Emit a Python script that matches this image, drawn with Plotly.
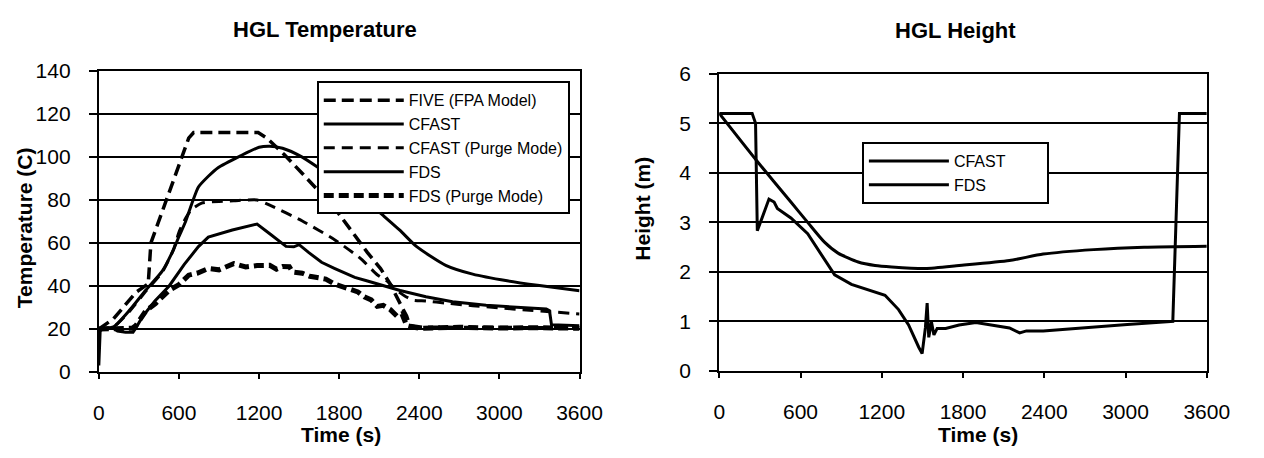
import plotly.graph_objects as go

# ---------------- data: HGL Temperature ----------------
five_t = [0, 110, 278, 370, 390, 549, 673, 710, 1193, 1259, 1390, 1524, 1646, 1768, 1890,
          2012, 2110, 2183, 2256, 2305, 2329, 2420, 3600]
five_T = [20, 24.7, 37, 41, 60, 88, 108.7, 111.3, 111.3, 108.7, 101, 92.3, 84.2, 76, 65.8,
          55.5, 48.1, 40.8, 31.9, 26, 21.6, 20.8, 20.5]

cfast_t = [0, 110, 234, 351, 476, 560, 600, 650, 695, 746, 820, 893, 1061, 1200, 1280, 1376,
           1520, 1668, 1850, 2012, 2134, 2256, 2378, 2598, 2800, 3058, 3300, 3600]
cfast_T = [20, 21, 29, 38, 47, 57, 63, 70, 78, 86, 91, 95, 100.5, 104.5, 105, 104,
           100, 94, 86.5, 79, 72.5, 65.8, 58.4, 49.6, 45.5, 42.4, 40.2, 37.8]

cfastp_t = [0, 110, 234, 351, 476, 560, 600, 650, 695, 770, 900, 1010, 1185, 1280, 1524, 1768,
            1963, 2085, 2159, 2230, 2300, 2354, 2451, 2600, 2800, 3000, 3200, 3380, 3600]
cfastp_T = [20, 21, 28.5, 37.5, 46.5, 57, 65, 71.5, 75.5, 78.5, 79.3, 79.6, 80, 77.6, 70.2, 61.4,
            52.6, 45.2, 42.3, 38, 35, 33.4, 33, 32, 30.8, 29.8, 28.8, 28, 27]

fds_t = [0, 10, 30, 110, 140, 200, 256, 278, 330, 420, 527, 640, 746, 820, 1000, 1185, 1280,
         1402, 1460, 1500, 1573, 1668, 1768, 1917, 2012, 2256, 2450, 2649, 2900, 3150, 3351,
         3375, 3390, 3600]
fds_T = [3, 19, 20.3, 20.3, 19, 18.5, 18.5, 20.5, 26, 33, 40, 50, 58.3, 62.7, 66, 68.8, 64.3,
         58.4, 58.2, 59.2, 55.5, 51, 48.1, 44, 42.3, 37.9, 35, 32.7, 31, 30, 29.3,
         28.5, 22, 21.5]

fdsp_t = [0, 150, 250, 278, 351, 424, 480, 527, 600, 673, 740, 820, 900, 1010, 1100, 1185,
          1280, 1330, 1376, 1427, 1451, 1524, 1580, 1646, 1700, 1768, 1830, 1890, 1940, 1988,
          2040, 2085, 2130, 2183, 2232, 2270, 2305, 2340, 2400, 2700, 3000, 3300, 3600]
fdsp_T = [20, 20.5, 20.3, 21.6, 28.3, 31.8, 35, 38, 40.6, 45, 46, 48.1, 47.5, 50.4, 48.8, 49.5,
          49.6, 47.8, 49, 48.9, 46.5, 45.9, 44.5, 43.7, 43.2, 40.8, 39.5, 37.9, 37.2, 34.9,
          33.5, 30.5, 31, 29, 26, 27, 21.6, 21, 20.3, 20.8, 20.4, 20.6, 20.3]

# ---------------- data: HGL Height ----------------
h_cfast_t = [0, 281, 529, 653, 777, 877, 1026, 1150, 1274, 1522, 1771, 2143, 2392, 2764, 3137, 3600]
h_cfast = [5.2, 4.23, 3.41, 3.0, 2.6, 2.38, 2.2, 2.13, 2.10, 2.07, 2.13, 2.23, 2.36, 2.45, 2.50, 2.52]

h_fds_t = [0, 243, 268, 281, 367, 405, 429, 529, 653, 777, 852, 976, 1150, 1224, 1324, 1398,
           1473, 1498, 1522, 1535, 1547, 1567, 1585, 1609, 1672, 1771, 1895, 2019, 2143, 2218,
           2268, 2392, 2764, 3013, 3349, 3398, 3600]
h_fds = [5.2, 5.2, 5.0, 2.83, 3.47, 3.41, 3.28, 3.09, 2.77, 2.26, 1.94, 1.75, 1.59, 1.53, 1.24, 0.93,
         0.48, 0.35, 0.87, 1.37, 0.68, 0.99, 0.73, 0.86, 0.86, 0.93, 0.98, 0.93, 0.87, 0.77,
         0.81, 0.81, 0.89, 0.94, 1.0, 5.2, 5.2]

time_ticks = [0, 600, 1200, 1800, 2400, 3000, 3600]
temp_ticks = [0, 20, 40, 60, 80, 100, 120, 140]
height_ticks = [0, 1, 2, 3, 4, 5, 6]

FONT = "Liberation Sans, Arial, sans-serif"
W, H = 1264, 458

fig = go.Figure()

def add(x, y, name, width, dash, xa, ya, legend, group, shape="linear"):
    fig.add_trace(go.Scatter(
        x=x, y=y, name=name, mode="lines", xaxis=xa, yaxis=ya, legend=legend,
        legendgroup=group,
        line=dict(color="black", width=width, dash=dash, shape=shape, smoothing=0.6)))

add(five_t, five_T, "FIVE (FPA Model)", 3.5, "12px,6px", "x", "y", "legend", "a")
add(cfast_t, cfast_T, "CFAST", 3, "solid", "x", "y", "legend", "b", "spline")
add(cfastp_t, cfastp_T, "CFAST (Purge Mode)", 3, "11px,7px", "x", "y", "legend", "c", "spline")
add(fds_t, fds_T, "FDS", 3, "solid", "x", "y", "legend", "d")
add(fdsp_t, fdsp_T, "FDS (Purge Mode)", 5, "10px,5px", "x", "y", "legend", "e")

add(h_cfast_t, h_cfast, "CFAST" + "&nbsp;" * 8, 3, "solid", "x2", "y2", "legend2", "f", "spline")
add(h_fds_t, h_fds, "FDS", 3, "solid", "x2", "y2", "legend2", "g")

xcommon = dict(range=[0, 3600], tickvals=time_ticks, ticks="outside", ticklen=5, tickwidth=2,
               tickcolor="black", showline=True, linecolor="black", linewidth=2, mirror=True,
               showgrid=False, zeroline=False, ticklabelstandoff=16,
               tickfont=dict(family=FONT, size=21, color="black"))
ycommon = dict(ticks="outside", ticklen=8, tickwidth=2, tickcolor="black", showline=True,
               linecolor="black", linewidth=2, mirror=True, showgrid=True, gridcolor="black",
               gridwidth=2, zeroline=False, ticklabelstandoff=14,
               tickfont=dict(family=FONT, size=21, color="black"))

def px(v):
    return v / W

def py(v):
    return 1 - v / H

fig.update_layout(
    width=W, height=H, margin=dict(l=0, r=0, t=0, b=0),
    paper_bgcolor="white", plot_bgcolor="white",
    font=dict(family=FONT, color="black"),
    xaxis=dict(domain=[px(95), px(587)], anchor="y", **xcommon),
    yaxis=dict(domain=[py(379), py(62)], anchor="x", range=[0, 140], tickvals=temp_ticks, **ycommon),
    xaxis2=dict(domain=[px(730), px(1229)], anchor="y2", **xcommon),
    yaxis2=dict(domain=[py(378), py(65)], anchor="x2", range=[0, 6], tickvals=height_ticks, **ycommon),
    legend=dict(x=px(577), y=py(73), xanchor="right", yanchor="top", bgcolor="white",
                bordercolor="black", borderwidth=2, font=dict(family=FONT, size=16, color="black"),
                tracegroupgap=4, itemwidth=80, traceorder="normal"),
    legend2=dict(x=px(876), y=py(137), xanchor="left", yanchor="top", bgcolor="white",
                 bordercolor="black", borderwidth=2, font=dict(family=FONT, size=16, color="black"),
                 tracegroupgap=6, itemwidth=80, traceorder="normal"),
    showlegend=True,
)

title_font = dict(family=FONT, size=22, color="black")
axis_font = dict(family=FONT, size=21, color="black")
ann = [
    dict(text="<b>HGL Temperature</b>", x=px(326), y=py(18), font=title_font),
    dict(text="<b>HGL Height</b>", x=px(972), y=py(20), font=title_font),
    dict(text="<b>Time (s)</b>", x=px(343), y=py(445), font=axis_font),
    dict(text="<b>Time (s)</b>", x=px(995), y=py(445), font=axis_font),
    dict(text="<b>Temperature (C)</b>", x=px(19), y=py(227), textangle=-90, font=axis_font),
    dict(text="<b>Height (m)</b>", x=px(652), y=py(207), textangle=-90, font=axis_font),
]
for a in ann:
    fig.add_annotation(xref="paper", yref="paper", showarrow=False, xanchor="center",
                       yanchor="middle", **a)

fig.write_html("out.html", config={"displayModeBar": False},
               post_script="document.body.style.margin='0';document.body.style.overflow='hidden';")
